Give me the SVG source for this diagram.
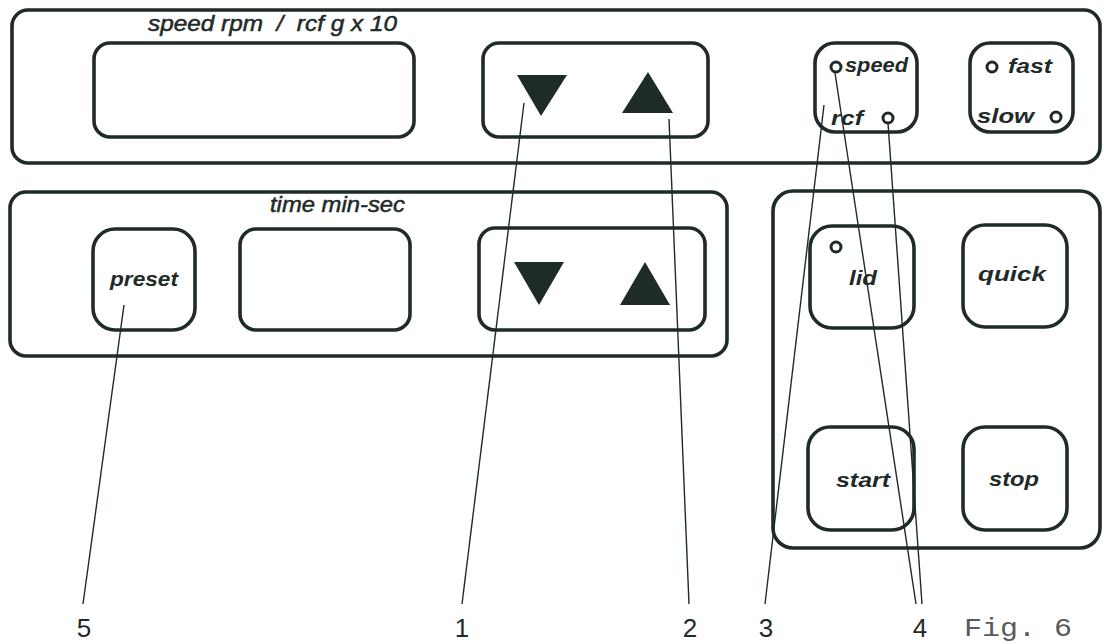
<svg xmlns="http://www.w3.org/2000/svg" width="1104" height="644" viewBox="0 0 1104 644">
<style>
.box{fill:none;stroke:#1f2b28;stroke-width:3.6}
.led{fill:none;stroke:#1f2b28;stroke-width:3}
.tri{fill:#1f2b28}
.lbl{font-family:"Liberation Sans",Arial,sans-serif;font-style:italic;font-weight:bold;fill:#1f2b28;font-size:20px}
.hdr{font-family:"Liberation Sans",Arial,sans-serif;font-style:italic;fill:#1f2b28;font-size:22px;stroke:#1f2b28;stroke-width:0.5;white-space:pre}
.num{font-family:"Liberation Sans",Arial,sans-serif;fill:#1f2b28;font-size:26px}
.fig{font-family:"Liberation Mono","Courier New",monospace;fill:#5a5a5a;font-size:26px}
.lead{stroke:#1f2b28;stroke-width:1.4;fill:none}
</style>
<rect width="1104" height="644" fill="#fff"/>
<g id="speed-panel">
<rect class="box" x="12" y="10" width="1088" height="153" rx="16"/>
<text class="hdr" x="148" y="31" textLength="249" lengthAdjust="spacingAndGlyphs" xml:space="preserve">speed rpm  /  rcf g x 10</text>
</g>
<g id="speed-display"><rect class="box" x="94" y="43" width="320" height="94" rx="16"/></g>
<g id="speed-arrows">
<rect class="box" x="483" y="43" width="225" height="94" rx="16"/>
<polygon class="tri" points="517,75 567,75 541,116"/>
<polygon class="tri" points="648,72 673,113 622,113"/>
</g>
<g id="speed-rcf">
<rect class="box" x="815" y="43" width="102" height="89" rx="20"/>
<circle class="led" cx="836" cy="67" r="5"/>
<text class="lbl" x="845" y="72" textLength="63" lengthAdjust="spacingAndGlyphs">speed</text>
<text class="lbl" x="831" y="125" textLength="32" lengthAdjust="spacingAndGlyphs">rcf</text>
<circle class="led" cx="888" cy="118" r="5"/>
</g>
<g id="fast-slow">
<rect class="box" x="970" y="43" width="103" height="89" rx="20"/>
<circle class="led" cx="992" cy="67" r="5"/>
<text class="lbl" x="1008" y="73" textLength="44" lengthAdjust="spacingAndGlyphs">fast</text>
<text class="lbl" x="977" y="123" textLength="57" lengthAdjust="spacingAndGlyphs">slow</text>
<circle class="led" cx="1056" cy="117" r="5"/>
</g>
<g id="time-panel">
<rect class="box" x="10" y="192" width="717" height="164" rx="16"/>
<text class="hdr" x="270" y="212" textLength="135" lengthAdjust="spacingAndGlyphs">time min-sec</text>
</g>
<g id="preset">
<rect class="box" x="93" y="229" width="102" height="101" rx="22"/>
<text class="lbl" x="110" y="286" textLength="68" lengthAdjust="spacingAndGlyphs">preset</text>
</g>
<g id="time-display"><rect class="box" x="240" y="229" width="170" height="101" rx="16"/></g>
<g id="time-arrows">
<rect class="box" x="479" y="228" width="226" height="102" rx="16"/>
<polygon class="tri" points="514,262 564,262 539,305"/>
<polygon class="tri" points="645,262 670,305 620,305"/>
</g>
<g id="control-panel"><rect class="box" x="773" y="191" width="327" height="357" rx="20"/></g>
<g id="lid">
<rect class="box" x="810" y="226" width="104" height="102" rx="22"/>
<circle class="led" cx="836" cy="247" r="5"/>
<text class="lbl" x="849" y="285" textLength="28" lengthAdjust="spacingAndGlyphs">lid</text>
</g>
<g id="quick">
<rect class="box" x="963" y="225" width="104" height="102" rx="22"/>
<text class="lbl" x="978" y="281" textLength="68" lengthAdjust="spacingAndGlyphs">quick</text>
</g>
<g id="start">
<rect class="box" x="808" y="427" width="106" height="103" rx="22"/>
<text class="lbl" x="836" y="487" textLength="54" lengthAdjust="spacingAndGlyphs">start</text>
</g>
<g id="stop">
<rect class="box" x="963" y="427" width="104" height="103" rx="22"/>
<text class="lbl" x="989" y="486" textLength="50" lengthAdjust="spacingAndGlyphs">stop</text>
</g>
<g id="connectors">
<line class="lead" x1="124" y1="305" x2="83" y2="604"/>
<line class="lead" x1="524" y1="103" x2="462" y2="604"/>
<line class="lead" x1="669" y1="119" x2="689" y2="604"/>
<line class="lead" x1="824" y1="105" x2="765" y2="604"/>
<line class="lead" x1="835" y1="73" x2="916" y2="604"/>
<line class="lead" x1="888" y1="123" x2="922" y2="604"/>
</g>
<g id="labels">
<text class="num" x="84" y="637" text-anchor="middle">5</text>
<text class="num" x="462" y="637" text-anchor="middle">1</text>
<text class="num" x="690" y="637" text-anchor="middle">2</text>
<text class="num" x="766" y="637" text-anchor="middle">3</text>
<text class="num" x="920" y="637" text-anchor="middle">4</text>
<text class="fig" x="964" y="636" textLength="108" lengthAdjust="spacingAndGlyphs">Fig. 6</text>
</g>
</svg>
